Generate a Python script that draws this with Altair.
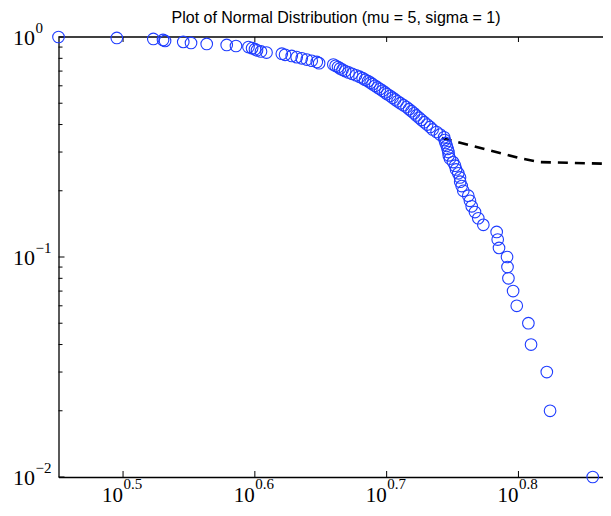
import altair as alt
import pandas as pd

title_text = "Plot of Normal Distribution (mu = 5, sigma = 1)"

# sorted sample values (x)
x_vals = [2.825, 3.128, 3.334, 3.391, 3.403, 3.513, 3.561, 3.660, 3.790, 3.852,
          3.937, 3.962, 3.982, 3.996, 4.024, 4.063, 4.173, 4.197, 4.246, 4.283,
          4.321, 4.359, 4.397, 4.436, 4.454, 4.566, 4.584, 4.604, 4.620, 4.640,
          4.661, 4.689, 4.718, 4.751, 4.780, 4.806, 4.826, 4.852, 4.873, 4.890,
          4.912, 4.933, 4.954, 4.976, 4.998, 5.015, 5.042, 5.064, 5.086, 5.108,
          5.134, 5.162, 5.189, 5.212, 5.235, 5.258, 5.279, 5.304, 5.327, 5.353,
          5.379, 5.407, 5.431, 5.469, 5.502, 5.541, 5.546, 5.555, 5.567, 5.575,
          5.583, 5.586, 5.598, 5.628, 5.648, 5.658, 5.680, 5.697, 5.699, 5.714,
          5.730, 5.780, 5.797, 5.815, 5.848, 5.882, 5.934, 6.074, 6.085, 6.099,
          6.185, 6.190, 6.200, 6.251, 6.291, 6.420, 6.450, 6.630, 6.668, 7.184]

# complementary cumulative probability of each sample
ccdf = [1.00, 0.99, 0.98, 0.97, 0.96, 0.95, 0.94, 0.93, 0.92, 0.91,
        0.90, 0.89, 0.88, 0.87, 0.86, 0.85, 0.84, 0.83, 0.82, 0.81,
        0.80, 0.79, 0.78, 0.77, 0.76, 0.75, 0.74, 0.73, 0.72, 0.71,
        0.70, 0.69, 0.68, 0.67, 0.66, 0.65, 0.64, 0.63, 0.62, 0.61,
        0.60, 0.59, 0.58, 0.57, 0.56, 0.55, 0.54, 0.53, 0.52, 0.51,
        0.50, 0.49, 0.48, 0.47, 0.46, 0.45, 0.44, 0.43, 0.42, 0.41,
        0.40, 0.39, 0.38, 0.37, 0.36, 0.35, 0.34, 0.33, 0.32, 0.31,
        0.30, 0.29, 0.28, 0.27, 0.26, 0.25, 0.24, 0.23, 0.22, 0.21,
        0.20, 0.19, 0.18, 0.17, 0.16, 0.15, 0.14, 0.13, 0.12, 0.11,
        0.10, 0.09, 0.08, 0.07, 0.06, 0.05, 0.04, 0.03, 0.02, 0.01]

# dashed fit line
fit_x = [5.519, 6.330, 6.554, 7.42]
fit_y = [0.3475, 0.281, 0.270, 0.265]

# ticks
x_tick_pos = [3.1623, 3.9811, 5.0119, 6.3096]
x_tick_exp = ["0.5", "0.6", "0.7", "0.8"]
y_tick_pos = [1.0, 0.1, 0.01]
y_tick_exp = ["0", "\u22121", "\u22122"]
y_minor = [0.9, 0.8, 0.7, 0.6, 0.5, 0.4, 0.3, 0.2,
           0.09, 0.08, 0.07, 0.06, 0.05, 0.04, 0.03, 0.02]

W = 544.5
H = 440

pts = pd.DataFrame({"x": x_vals, "y": ccdf})
fit = pd.DataFrame({"x": fit_x, "y": fit_y})
xt = pd.DataFrame({"x": x_tick_pos, "base": ["10"] * 4, "exp": x_tick_exp})
yt = pd.DataFrame({"y": y_tick_pos, "base": ["10"] * 3, "exp": y_tick_exp})
ym = pd.DataFrame({"y": y_minor})
ttl = pd.DataFrame({"t": [title_text]})

xscale = alt.Scale(type="log", domain=[2.825, 7.314], nice=False)
yscale = alt.Scale(type="log", domain=[0.01, 1.0], nice=False)

axis_style = dict(labels=False, ticks=False, grid=False, domain=True,
                  domainColor="black", domainWidth=1.3, title=None)
X = lambda f: alt.X(f, type="quantitative", scale=xscale, axis=alt.Axis(**axis_style))
Y = lambda f: alt.Y(f, type="quantitative", scale=yscale, axis=alt.Axis(**axis_style))

points = alt.Chart(pts).mark_point(
    shape="circle", filled=False, size=135, color="#1f3dff", strokeWidth=1.1,
    opacity=1, clip=False
).encode(x=X("x"), y=Y("y"))

fitline = alt.Chart(fit).mark_line(
    color="black", strokeWidth=2.6, strokeDash=[10, 7], clip=True
).encode(x=X("x"), y=Y("y"))

top_border = alt.Chart(ttl).mark_rule(color="black", strokeWidth=1.3).encode(
    x=alt.value(0), x2=alt.value(W + 10), y=alt.value(0))

xt_bottom = alt.Chart(xt).mark_rule(color="black", strokeWidth=1).encode(
    x=X("x"), y=alt.value(H), y2=alt.value(H - 6))
xt_top = alt.Chart(xt).mark_rule(color="black", strokeWidth=1).encode(
    x=X("x"), y=alt.value(0), y2=alt.value(5))
yt_major = alt.Chart(yt).mark_rule(color="black", strokeWidth=1).encode(
    y=Y("y"), x=alt.value(0), x2=alt.value(6))
yt_minor = alt.Chart(ym).mark_rule(color="black", strokeWidth=1).encode(
    y=Y("y"), x=alt.value(0), x2=alt.value(4))

serif = "Liberation Serif"
xl_base = alt.Chart(xt).mark_text(
    font=serif, fontSize=21, align="right", baseline="alphabetic", color="black"
).encode(x=X("x"), y=alt.value(H + 25), text="base:N")
xl_exp = alt.Chart(xt).mark_text(
    font=serif, fontSize=15, align="left", baseline="alphabetic", color="black", dx=0.5
).encode(x=X("x"), y=alt.value(H + 12), text="exp:N")
yl_base = alt.Chart(yt).mark_text(
    font=serif, fontSize=22, align="right", baseline="alphabetic", color="black", dy=7.5
).encode(y=Y("y"), x=alt.value(-23.5), text="base:N")
yl_exp = alt.Chart(yt).mark_text(
    font=serif, fontSize=15, align="left", baseline="alphabetic", color="black", dy=-3.8
).encode(y=Y("y"), x=alt.value(-23), text="exp:N")

title_mark = alt.Chart(ttl).mark_text(
    font="Liberation Sans", fontSize=16, align="center", baseline="alphabetic", color="black"
).encode(x=alt.value(277.5), y=alt.value(-14.5), text="t:N")

chart = alt.layer(
    top_border, xt_bottom, xt_top, yt_major, yt_minor,
    fitline, points, xl_base, xl_exp, yl_base, yl_exp, title_mark
).properties(
    width=W, height=H,
    autosize=alt.AutoSizeParams(type="none"),
    padding={"left": 50.5, "top": 29, "right": 0, "bottom": 31},
).configure_view(strokeWidth=0)

chart.save("out.html", embed_options={"renderer": "svg", "actions": False})
